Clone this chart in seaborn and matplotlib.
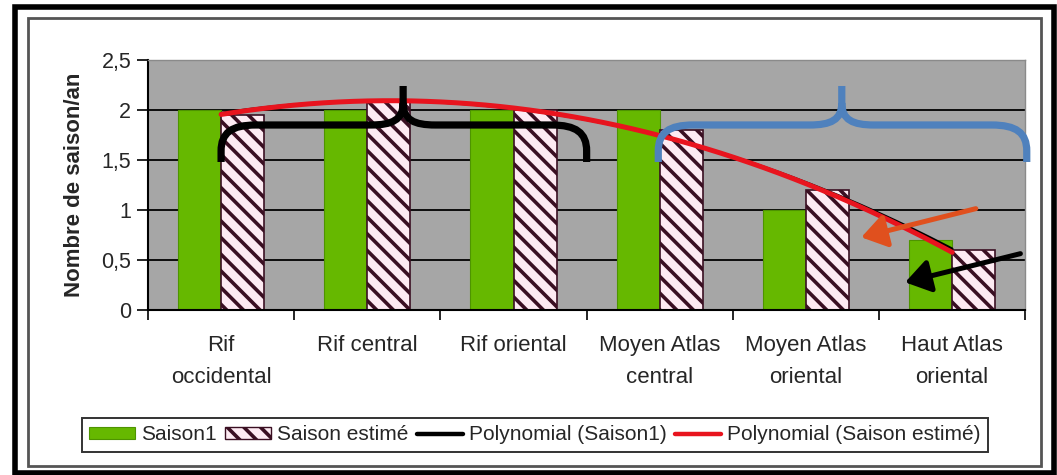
import numpy as np
import pandas as pd
import matplotlib
matplotlib.use("Agg")
import matplotlib.pyplot as plt
import seaborn as sns
from matplotlib.patches import Patch, Rectangle, FancyArrowPatch, PathPatch
from matplotlib.lines import Line2D
from matplotlib.path import Path

# --- data -------------------------------------------------------------
regions = ["Rif\noccidental", "Rif central", "Rif oriental",
           "Moyen Atlas\ncentral", "Moyen Atlas\noriental", "Haut Atlas\noriental"]
saison1 = [2.0, 2.0, 2.0, 2.0, 1.0, 0.7]
saison_estime = [1.95, 2.1, 2.0, 1.8, 1.2, 0.6]
series_names = ["Saison1", "Saison estimé"]
y_ticks = [0, 0.5, 1, 1.5, 2, 2.5]
y_tick_labels = ["0", "0,5", "1", "1,5", "2", "2,5"]
legend_labels = ["Saison1", "Saison estimé", "Polynomial (Saison1)",
                 "Polynomial (Saison estimé)"]

# --- style ------------------------------------------------------------
GREEN = "#66b800"
PINK = "#fdeaf2"
STRIPE = "#3a0f22"
PLOT_BG = "#a6a6a6"
RED = "#e8141e"
BLUE = "#4f81bd"
ORANGE = "#e0501e"
HATCH = "\\\\"

sns.set_style("white")
plt.rcParams["font.family"] = ["Liberation Sans", "DejaVu Sans"]
plt.rcParams["hatch.linewidth"] = 2.6

df = pd.DataFrame({
    "region": regions * 2,
    "value": saison1 + saison_estime,
    "serie": [series_names[0]] * len(regions) + [series_names[1]] * len(regions),
})

fig = plt.figure(figsize=(10.57, 4.75), dpi=100)
ax = fig.add_axes([0.140, 0.3474, 0.830, 0.5263])
ax.set_facecolor(PLOT_BG)

sns.barplot(data=df, x="region", y="value", hue="serie", order=regions,
            hue_order=series_names, palette=[GREEN, PINK], saturation=1,
            width=0.59, gap=0, ax=ax, legend=False, zorder=2)

for bar in ax.containers[0]:
    bar.set_edgecolor("#4e9400")
    bar.set_linewidth(0.8)
for bar in ax.containers[1]:
    bar.set_hatch(HATCH)
    bar.set_edgecolor(STRIPE)
    bar.set_linewidth(1.2)
    if hasattr(bar, "set_hatch_linewidth"):
        bar.set_hatch_linewidth(2.6)

# second-order polynomial trend lines
xpos = np.arange(len(regions))
xs = np.linspace(0, len(regions) - 1, 300)
fit1 = np.polyval(np.polyfit(xpos, saison1, 2), xs)
fit2 = np.polyval(np.polyfit(xpos, saison_estime, 2), xs)
sns.lineplot(x=xs, y=fit1, color="black", lw=2.0, ax=ax, zorder=4)
sns.lineplot(x=xs, y=fit2, color=RED, lw=3.6, ax=ax, zorder=5)

# axes
ax.set_xlim(-0.5, len(regions) - 0.5)
ax.set_ylim(0, 2.5)
ax.set_yticks(y_ticks)
ax.set_yticklabels(y_tick_labels)
ax.grid(axis="y", color="black", lw=1.3, zorder=0)
ax.set_axisbelow(True)
ax.set_xticks(xpos)
ax.set_xticklabels(regions, fontsize=16, linespacing=1.7)
ax.set_xticks(np.arange(len(regions) + 1) - 0.5, minor=True)
ax.tick_params(axis="x", which="major", length=0, pad=18)
ax.tick_params(axis="x", which="minor", length=7, width=1.2, color="black",
               direction="out", bottom=True)
ax.tick_params(axis="y", length=8, width=1.2, color="black", direction="out",
               left=True, labelsize=15.5, pad=4)
ax.set_xlabel("")
ax.set_ylabel("Nombre de saison/an", fontsize=16, fontweight="bold", labelpad=12)
for side in ("left", "bottom"):
    ax.spines[side].set_color("black")
    ax.spines[side].set_linewidth(1.5)
for side in ("top", "right"):
    ax.spines[side].set_color("#8a8a8a")
    ax.spines[side].set_linewidth(1.0)


def brace_path(x0, x1, xm, y_bar, y_end, y_top, rx, ry, rc):
    """Curly brace opening downward: rounded hooks at both ends, cusp at xm."""
    verts, codes = [], []
    verts += [(x0, y_end), (x0, y_bar - ry)]
    codes += [Path.MOVETO, Path.LINETO]
    verts += [(x0, y_bar - ry * 0.3), (x0 + rx * 0.3, y_bar), (x0 + rx, y_bar)]
    codes += [Path.CURVE4] * 3
    verts += [(xm - rc, y_bar)]
    codes += [Path.LINETO]
    verts += [(xm - rc * 0.35, y_bar), (xm, y_bar + 0.05), (xm, y_bar + 0.22)]
    codes += [Path.CURVE4] * 3
    verts += [(xm, y_top)]
    codes += [Path.LINETO]
    verts += [(xm, y_bar + 0.22)]
    codes += [Path.MOVETO]
    verts += [(xm, y_bar + 0.05), (xm + rc * 0.35, y_bar), (xm + rc, y_bar)]
    codes += [Path.CURVE4] * 3
    verts += [(x1 - rx, y_bar)]
    codes += [Path.LINETO]
    verts += [(x1 - rx * 0.3, y_bar), (x1, y_bar - ry * 0.3), (x1, y_bar - ry)]
    codes += [Path.CURVE4] * 3
    verts += [(x1, y_end)]
    codes += [Path.LINETO]
    return Path(verts, codes)


for (x0, x1, xm, col) in [(0.0, 2.50, 1.245, "black"), (2.99, 5.51, 4.245, BLUE)]:
    p = brace_path(x0, x1, xm, 1.85, 1.48, 2.24, 0.24, 0.26, 0.22)
    ax.add_patch(PathPatch(p, fill=False, ec=col, lw=5.2, capstyle="butt",
                           joinstyle="round", zorder=6, clip_on=False))

for (xa, ya, xb, yb, col) in [(5.18, 1.02, 4.36, 0.72, ORANGE),
                              (5.485, 0.57, 4.66, 0.27, "black")]:
    ax.add_patch(FancyArrowPatch((xa, ya), (xb, yb),
                                 arrowstyle="-|>,head_length=0.75,head_width=0.5",
                                 mutation_scale=20, color=col, lw=3.6,
                                 zorder=7, clip_on=False))

# legend
handles = [
    Patch(facecolor=GREEN, edgecolor="#4e9400", lw=0.8),
    Patch(facecolor=PINK, edgecolor=STRIPE, hatch=HATCH, lw=1.0),
    Line2D([], [], color="black", lw=3.2),
    Line2D([], [], color=RED, lw=3.2),
]
leg = fig.legend(handles, legend_labels, loc="center",
                 bbox_to_anchor=(535 / 1057, 1 - 435 / 475), ncol=4,
                 frameon=True, fancybox=False, fontsize=15,
                 handlelength=2.2, handleheight=0.55, handletextpad=0.3,
                 columnspacing=0.4, borderpad=0.35, borderaxespad=0)
leg.get_frame().set_edgecolor("black")
leg.get_frame().set_linewidth(1.4)

# chart frames
fig.add_artist(Rectangle((28 / 1057, 1 - 466 / 475), (1041 - 28) / 1057,
                         (466 - 18) / 475, transform=fig.transFigure,
                         fill=False, ec="#555555", lw=2.0))
fig.add_artist(Rectangle((15 / 1057, 1 - 473 / 475), (1054 - 15) / 1057,
                         (473 - 7) / 475, transform=fig.transFigure,
                         fill=False, ec="black", lw=4.0))

fig.savefig("out.png", dpi=100, facecolor="white")
